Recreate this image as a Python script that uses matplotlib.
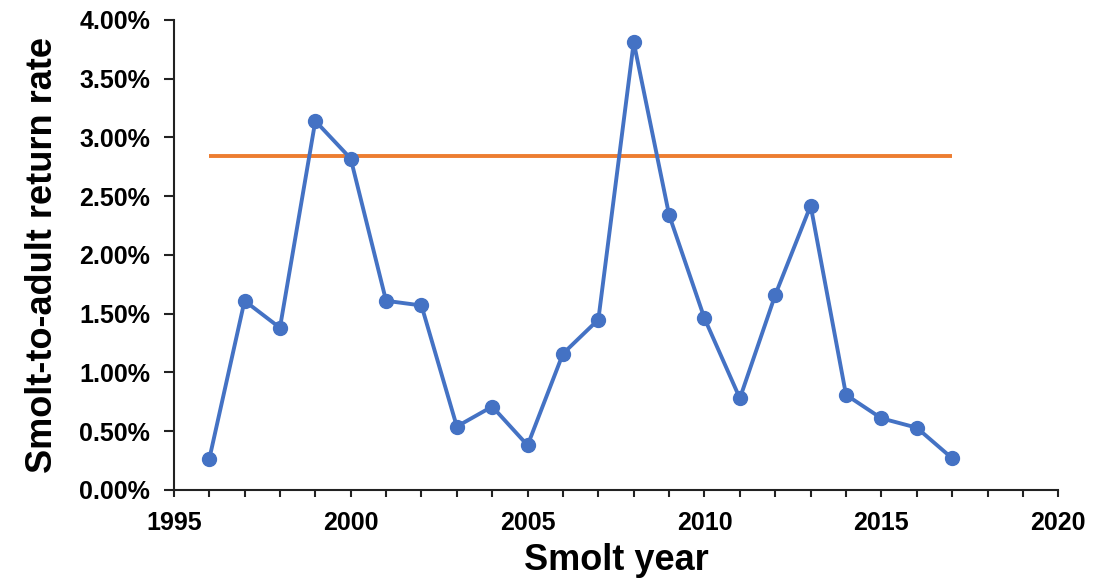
import matplotlib.pyplot as plt
from matplotlib.ticker import FuncFormatter, MultipleLocator

plt.rcParams['font.family'] = ['Liberation Sans', 'DejaVu Sans']
plt.rcParams['font.weight'] = 'bold'

# smolt-to-adult return rate (%)
years = [1996, 1997, 1998, 1999, 2000, 2001, 2002, 2003, 2004, 2005, 2006,
         2007, 2008, 2009, 2010, 2011, 2012, 2013, 2014, 2015, 2016, 2017]
sar = [0.26, 1.61, 1.38, 3.14, 2.82, 1.61, 1.57, 0.54, 0.71, 0.38, 1.16,
       1.45, 3.81, 2.34, 1.46, 0.78, 1.66, 2.42, 0.81, 0.61, 0.53, 0.27]
mean_years = [1996, 2017]
mean_sar = [2.84, 2.84]

fig = plt.figure(figsize=(11.07, 5.85), dpi=100)
ax = fig.add_axes([0.157, 0.1624, 0.799, 0.8036])

ax.plot(mean_years, mean_sar, color='#ED7D31', lw=2.8, solid_capstyle='butt')
ax.plot(years, sar, color='#4472C4', lw=2.8, marker='o', markersize=10)

ax.set_xlim(1995, 2020)
ax.set_ylim(0, 4)
ax.xaxis.set_major_locator(MultipleLocator(5))
ax.xaxis.set_minor_locator(MultipleLocator(1))
ax.yaxis.set_major_locator(MultipleLocator(0.5))
ax.yaxis.set_major_formatter(FuncFormatter(lambda v, p: f"{v:.2f}%"))

for s in ['top', 'right']:
    ax.spines[s].set_visible(False)
for s in ['left', 'bottom']:
    ax.spines[s].set_color('#222222')
    ax.spines[s].set_linewidth(1.5)

ax.tick_params(axis='both', which='both', direction='out', color='#222222',
               width=1.5, labelsize=18)
ax.tick_params(axis='x', which='both', length=5, pad=10)
ax.tick_params(axis='y', length=7, pad=10)

ax.set_xlabel('Smolt year', fontsize=26, fontweight='bold', labelpad=6)
ax.set_ylabel('Smolt-to-adult return rate', fontsize=26, fontweight='bold', labelpad=14)

fig.savefig('out.png', dpi=100)
